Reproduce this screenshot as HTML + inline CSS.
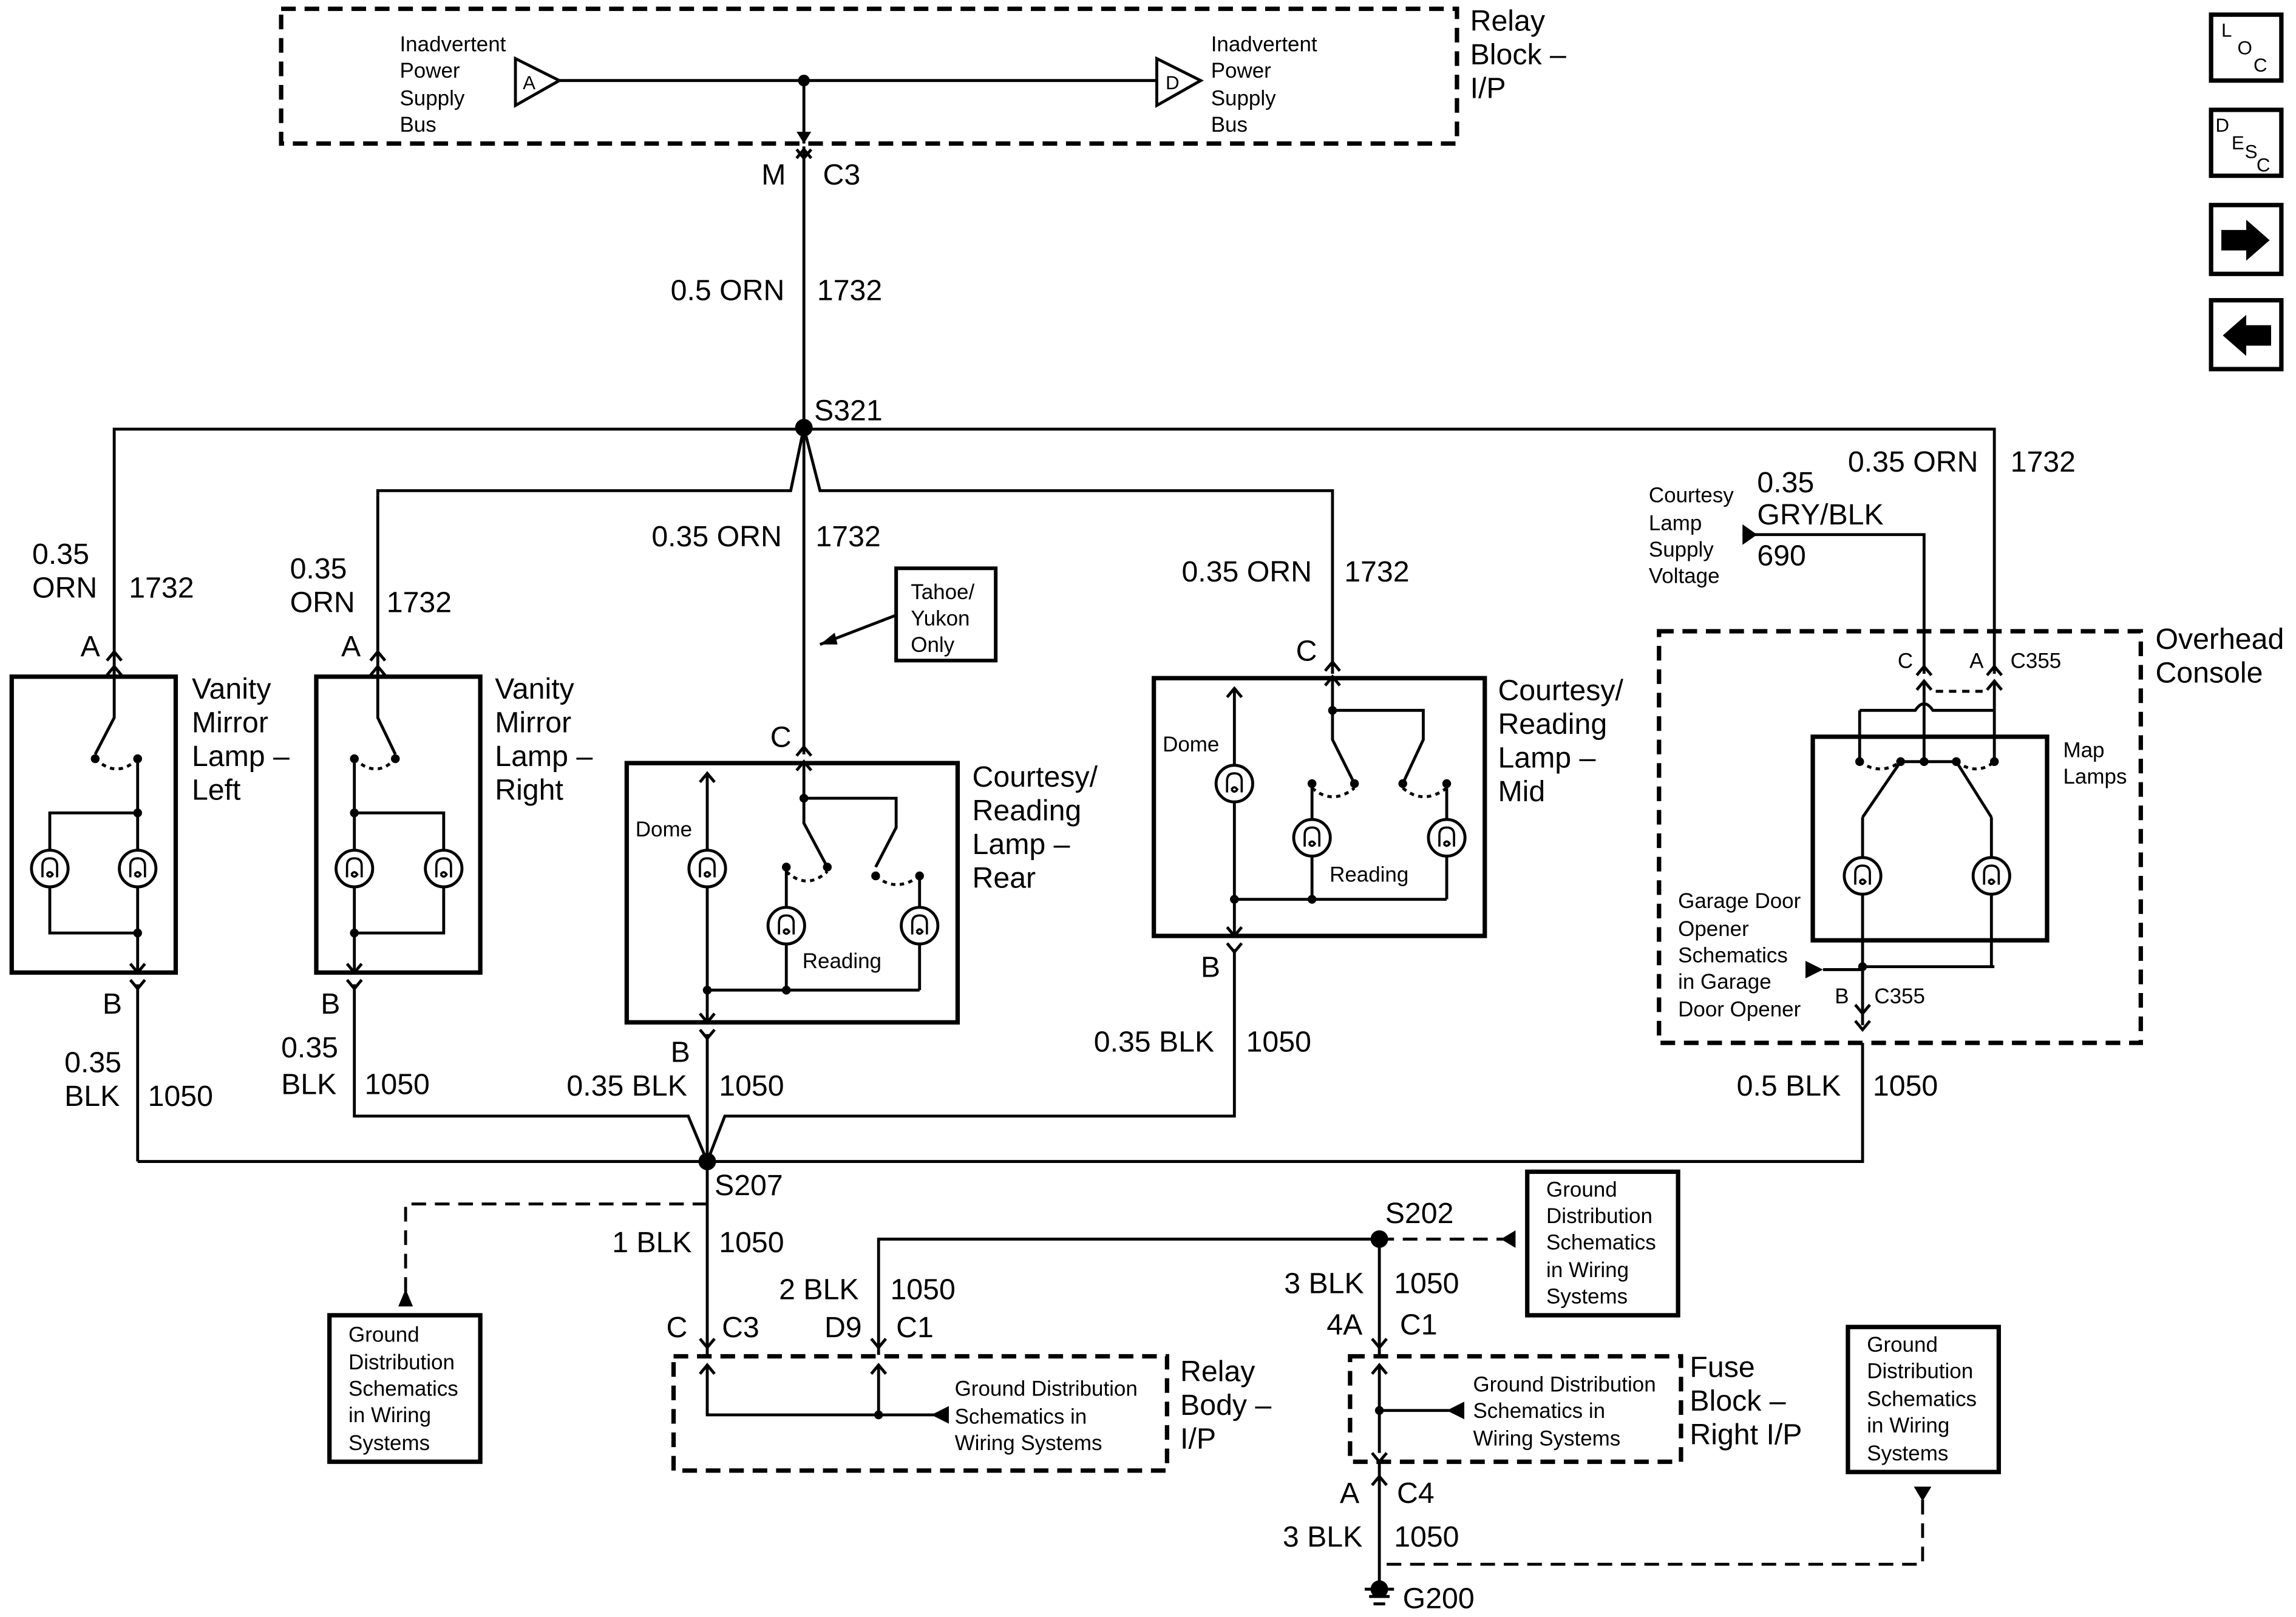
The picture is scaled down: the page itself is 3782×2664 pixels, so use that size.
<!DOCTYPE html>
<html><head><meta charset="utf-8"><style>
html,body{margin:0;padding:0;background:#fff}
svg{display:block}
text{font-family:"Liberation Sans",Arial,sans-serif;fill:#000}
.b{font-size:20px}.s{font-size:14.5px}
</style></head><body>
<svg width="3782" height="2664" viewBox="0 0 1568 1104" preserveAspectRatio="none" xmlns="http://www.w3.org/2000/svg">
<defs>
<g id="bulb"><circle r="12.5" fill="#fff" stroke="#000" stroke-width="2"/><path d="M-5,6 L-5,-2 Q-5,-7 0,-7 Q5,-7 5,-2 L5,6 M-2,4 Q0,1 2,4 Q0,7 -2,4" fill="none" stroke="#000" stroke-width="1.5"/></g>
<g id="up"><path d="M-5,6 L0,0 L5,6" fill="none" stroke="#000" stroke-width="2"/></g>
<g id="dn"><path d="M-5,-6 L0,0 L5,-6" fill="none" stroke="#000" stroke-width="2"/></g>
</defs>
<g fill="none" stroke="#000" stroke-width="2">
<rect x="192" y="6" width="803" height="92" stroke-dasharray="10,6" stroke-width="3"/>
<path d="M352,40 L382,55 L352,72 Z M382,55 H790 M790,40 L820,55 L790,72 Z M549,55 V98"/>
<path d="M549,100 V292 M549,292 L540,335 H258 V460 M549,292 L560,335 H910 V460 M549,292 V515 M78,460 V293 H1362 V460"/>
<rect x="8" y="462" width="112" height="202" stroke-width="3"/>
<path d="M78,455 V490 L65,515 M94,518 V555 H34 V637 H94 V664 M94,555 V637 M94,672 V793"/>
<path d="M65,518 Q80,532 94,518" stroke-dasharray="3,3"/>
<rect x="216" y="462" width="112" height="202" stroke-width="3"/>
<path d="M258,455 V490 L270,515 M242,518 V555 H303 V637 H242 V664 M242,555 V637 M242,672 V762 H470 L483,793"/>
<path d="M242,518 Q257,532 270,518" stroke-dasharray="3,3"/>
<rect x="428" y="521" width="226" height="177" stroke-width="3"/>
<path d="M483,528 V698 M549,520 V545 H612 V565 L598,592 M549,545 V562 L565,592 M537,592 V676 M628,598 V676 M483,676 H628 M483,706 V925"/>
<path d="M537,595 Q551,608 565,595 M598,598 Q612,610 628,598" stroke-dasharray="3,3"/>
<rect x="788" y="463" width="226" height="176" stroke-width="3"/>
<path d="M843,470 V639 M910,462 V485 H972 V505 L958,535 M910,485 V505 L925,535 M896,535 V614 M988,535 V614 M843,614 H988 M843,648 V762 H495 L483,793"/>
<path d="M896,538 Q910,550 925,538 M958,538 Q972,550 988,538" stroke-dasharray="3,3"/>
<rect x="1133" y="431" width="329" height="281" stroke-dasharray="10,6" stroke-width="3"/>
<rect x="1238" y="503" width="160" height="139" stroke-width="3"/>
<path d="M1190,365 H1314 V460"/>
<path d="M1322,472 H1354" stroke-dasharray="5,4"/>
<path d="M1314,465 V520 M1362,465 V520 M1270,485 H1308 Q1314,476 1320,485 H1362 M1270,485 V520 M1298,520 H1336 M1298,520 L1272,558 M1336,520 L1360,558 M1272,558 V660 M1360,558 V660 M1272,660 H1362 M1272,660 V700 M1272,712 V793 H94"/>
<path d="M1270,520 Q1284,530 1298,520 M1336,520 Q1350,530 1362,520" stroke-dasharray="3,3"/>
<path d="M1245,662 H1272"/>
<path d="M600,925 V846 H942 V925 M942,998 V1085"/>
<path d="M483,822 H277 V885 M942,846 H1030 M947,1068 H1313 V1020" stroke-dasharray="10,6"/>
<rect x="225" y="898" width="103" height="100" stroke-width="3"/>
<rect x="1043" y="800" width="103" height="98" stroke-width="3"/>
<rect x="1262" y="906" width="103" height="99" stroke-width="3"/>
<rect x="612" y="388" width="68" height="63" stroke-width="2.5"/>
<path d="M612,420 L560,440"/>
<rect x="460" y="926" width="337" height="78" stroke-dasharray="10,6" stroke-width="3"/>
<path d="M483,932 V966 H640 M600,932 V966"/>
<rect x="922" y="926" width="226" height="72" stroke-dasharray="10,6" stroke-width="3"/>
<path d="M942,932 V992 M942,963 H990"/>
<path d="M932,1085 H952 M935,1090 H949 M938,1095 H946"/>
<rect x="1510" y="10" width="48" height="45" stroke-width="3"/>
<rect x="1510" y="75" width="48" height="45" stroke-width="3"/>
<rect x="1510" y="140" width="48" height="47" stroke-width="3"/>
<rect x="1510" y="205" width="48" height="47" stroke-width="3"/>
</g>
<g fill="#000">
<path d="M1517,157 H1534 V150 L1550,164 L1534,178 V171 H1517 Z"/>
<path d="M1551,222 H1534 V215 L1518,229 L1534,243 V236 H1551 Z"/>
<circle cx="549" cy="55" r="4"/><circle cx="549" cy="292" r="6"/><circle cx="483" cy="793" r="6"/><circle cx="942" cy="846" r="6"/><circle cx="942" cy="1085" r="6"/>
<path d="M549,98 l-5,-8 h10 z M1190,358 v14 l10,-7 z M1245,662 l-12,-6 v12 z M560,440 l10,-8 l2,8 z M277,880 l-5,12 h10 z M1025,846 l10,-6 v12 z M636,966 l12,-6 v12 z M988,963 l12,-6 v12 z M1313,1025 l-6,-10 h12 z"/>
<g stroke="none">
<circle cx="65" cy="518" r="3"/><circle cx="94" cy="518" r="3"/><circle cx="94" cy="555" r="3"/><circle cx="94" cy="637" r="3"/>
<circle cx="242" cy="518" r="3"/><circle cx="270" cy="518" r="3"/><circle cx="242" cy="555" r="3"/><circle cx="242" cy="637" r="3"/>
<circle cx="549" cy="545" r="3"/><circle cx="537" cy="592" r="3"/><circle cx="565" cy="592" r="3"/><circle cx="598" cy="598" r="3"/><circle cx="628" cy="598" r="3"/><circle cx="537" cy="676" r="3"/><circle cx="483" cy="676" r="3"/>
<circle cx="910" cy="485" r="3"/><circle cx="896" cy="535" r="3"/><circle cx="925" cy="535" r="3"/><circle cx="958" cy="535" r="3"/><circle cx="988" cy="535" r="3"/><circle cx="896" cy="614" r="3"/><circle cx="843" cy="614" r="3"/>
<circle cx="1270" cy="520" r="3"/><circle cx="1298" cy="520" r="3"/><circle cx="1314" cy="520" r="3"/><circle cx="1336" cy="520" r="3"/><circle cx="1362" cy="520" r="3"/><circle cx="1272" cy="660" r="3"/>
<circle cx="600" cy="966" r="3"/><circle cx="942" cy="963" r="3"/>
</g>
</g>
<use href="#bulb" x="34" y="593"/><use href="#bulb" x="94" y="593"/>
<use href="#bulb" x="242" y="593"/><use href="#bulb" x="303" y="593"/>
<use href="#bulb" x="483" y="593"/><use href="#bulb" x="537" y="632"/><use href="#bulb" x="628" y="632"/>
<use href="#bulb" x="843" y="535"/><use href="#bulb" x="896" y="572"/><use href="#bulb" x="988" y="572"/>
<use href="#bulb" x="1272" y="598"/><use href="#bulb" x="1360" y="598"/>
<use href="#dn" x="549" y="108"/><use href="#up" x="549" y="102"/>
<use href="#up" x="78" y="445"/><use href="#up" x="78" y="455"/><use href="#dn" x="94" y="664"/><use href="#dn" x="94" y="675"/>
<use href="#up" x="258" y="445"/><use href="#up" x="258" y="455"/><use href="#dn" x="242" y="664"/><use href="#dn" x="242" y="675"/>
<use href="#up" x="549" y="510"/><use href="#up" x="549" y="520"/><use href="#dn" x="483" y="698"/><use href="#dn" x="483" y="709"/>
<use href="#up" x="483" y="528"/><use href="#up" x="843" y="470"/>
<use href="#up" x="910" y="452"/><use href="#up" x="910" y="462"/><use href="#dn" x="843" y="639"/><use href="#dn" x="843" y="650"/>
<use href="#up" x="1314" y="455"/><use href="#up" x="1314" y="465"/><use href="#up" x="1362" y="455"/><use href="#up" x="1362" y="465"/>
<use href="#dn" x="1272" y="692"/><use href="#dn" x="1272" y="703"/>
<use href="#dn" x="483" y="920"/><use href="#up" x="483" y="932"/><use href="#dn" x="600" y="920"/><use href="#up" x="600" y="932"/>
<use href="#dn" x="942" y="920"/><use href="#up" x="942" y="932"/><use href="#dn" x="942" y="998"/><use href="#up" x="942" y="1008"/>
<g class="s">
<text x="273" y="35">Inadvertent</text><text x="273" y="53">Power</text><text x="273" y="72">Supply</text><text x="273" y="90">Bus</text>
<text x="827" y="35">Inadvertent</text><text x="827" y="53">Power</text><text x="827" y="72">Supply</text><text x="827" y="90">Bus</text>
<text x="357" y="61" font-size="13">A</text><text x="796" y="61" font-size="13">D</text>
<text x="622" y="409">Tahoe/</text><text x="622" y="427">Yukon</text><text x="622" y="445">Only</text>
<text x="434" y="571">Dome</text><text x="548" y="661">Reading</text>
<text x="794" y="513">Dome</text><text x="908" y="602">Reading</text>
<text x="1126" y="343">Courtesy</text><text x="1126" y="362">Lamp</text><text x="1126" y="380">Supply</text><text x="1126" y="398">Voltage</text>
<text x="1409" y="517">Map</text><text x="1409" y="535">Lamps</text>
<text x="1296" y="456">C</text><text x="1345" y="456">A</text><text x="1373" y="456">C355</text>
<text x="1146" y="620">Garage Door</text><text x="1146" y="639">Opener</text><text x="1146" y="657">Schematics</text><text x="1146" y="675">in Garage</text><text x="1146" y="694">Door Opener</text>
<text x="1253" y="685">B</text><text x="1280" y="685">C355</text>
<text x="238" y="916">Ground</text><text x="238" y="935">Distribution</text><text x="238" y="953">Schematics</text><text x="238" y="971">in Wiring</text><text x="238" y="990">Systems</text>
<text x="1056" y="817">Ground</text><text x="1056" y="835">Distribution</text><text x="1056" y="853">Schematics</text><text x="1056" y="872">in Wiring</text><text x="1056" y="890">Systems</text>
<text x="1275" y="923">Ground</text><text x="1275" y="941">Distribution</text><text x="1275" y="960">Schematics</text><text x="1275" y="978">in Wiring</text><text x="1275" y="997">Systems</text>
<text x="652" y="953">Ground Distribution</text><text x="652" y="972">Schematics in</text><text x="652" y="990">Wiring Systems</text>
<text x="1006" y="950">Ground Distribution</text><text x="1006" y="968">Schematics in</text><text x="1006" y="987">Wiring Systems</text>
<text x="1517" y="25" font-size="13">L</text><text x="1528" y="37" font-size="13">O</text><text x="1539" y="49" font-size="13">C</text>
<text x="1513" y="90" font-size="13">D</text><text x="1524" y="102" font-size="13">E</text><text x="1533" y="108" font-size="13">S</text><text x="1541" y="117" font-size="13">C</text>
</g>
<g class="b">
<text x="1004" y="21">Relay</text><text x="1004" y="44">Block –</text><text x="1004" y="67">I/P</text>
<text x="520" y="126">M</text><text x="562" y="126">C3</text>
<text x="458" y="205">0.5 ORN</text><text x="558" y="205">1732</text>
<text x="556" y="287">S321</text>
<text x="22" y="385">0.35</text><text x="22" y="408">ORN</text><text x="88" y="408">1732</text>
<text x="198" y="395">0.35</text><text x="198" y="418">ORN</text><text x="264" y="418">1732</text>
<text x="445" y="373">0.35 ORN</text><text x="557" y="373">1732</text>
<text x="807" y="397">0.35 ORN</text><text x="918" y="397">1732</text>
<text x="1262" y="322">0.35 ORN</text><text x="1373" y="322">1732</text>
<text x="1200" y="336">0.35</text><text x="1200" y="358">GRY/BLK</text><text x="1200" y="386">690</text>
<text x="1472" y="443">Overhead</text><text x="1472" y="466">Console</text>
<text x="55" y="448">A</text><text x="233" y="448">A</text><text x="526" y="510">C</text><text x="885" y="451">C</text>
<text x="131" y="477">Vanity</text><text x="131" y="500">Mirror</text><text x="131" y="523">Lamp –</text><text x="131" y="546">Left</text>
<text x="338" y="477">Vanity</text><text x="338" y="500">Mirror</text><text x="338" y="523">Lamp –</text><text x="338" y="546">Right</text>
<text x="664" y="537">Courtesy/</text><text x="664" y="560">Reading</text><text x="664" y="583">Lamp –</text><text x="664" y="606">Rear</text>
<text x="1023" y="478">Courtesy/</text><text x="1023" y="501">Reading</text><text x="1023" y="524">Lamp –</text><text x="1023" y="547">Mid</text>
<text x="70" y="692">B</text><text x="219" y="692">B</text><text x="458" y="725">B</text><text x="820" y="667">B</text>
<text x="44" y="732">0.35</text><text x="44" y="755">BLK</text><text x="101" y="755">1050</text>
<text x="192" y="722">0.35</text><text x="192" y="747">BLK</text><text x="249" y="747">1050</text>
<text x="387" y="748">0.35 BLK</text><text x="491" y="748">1050</text>
<text x="747" y="718">0.35 BLK</text><text x="851" y="718">1050</text>
<text x="1186" y="748">0.5 BLK</text><text x="1279" y="748">1050</text>
<text x="488" y="816">S207</text>
<text x="418" y="855">1 BLK</text><text x="491" y="855">1050</text>
<text x="946" y="835">S202</text>
<text x="532" y="887">2 BLK</text><text x="608" y="887">1050</text>
<text x="877" y="883">3 BLK</text><text x="952" y="883">1050</text>
<text x="455" y="913">C</text><text x="493" y="913">C3</text><text x="563" y="913">D9</text><text x="612" y="913">C1</text>
<text x="906" y="911">4A</text><text x="956" y="911">C1</text>
<text x="806" y="943">Relay</text><text x="806" y="966">Body –</text><text x="806" y="989">I/P</text>
<text x="1154" y="940">Fuse</text><text x="1154" y="963">Block –</text><text x="1154" y="986">Right I/P</text>
<text x="915" y="1026">A</text><text x="954" y="1026">C4</text>
<text x="876" y="1056">3 BLK</text><text x="952" y="1056">1050</text>
<text x="958" y="1098">G200</text>
</g>
</svg>
</body></html>
